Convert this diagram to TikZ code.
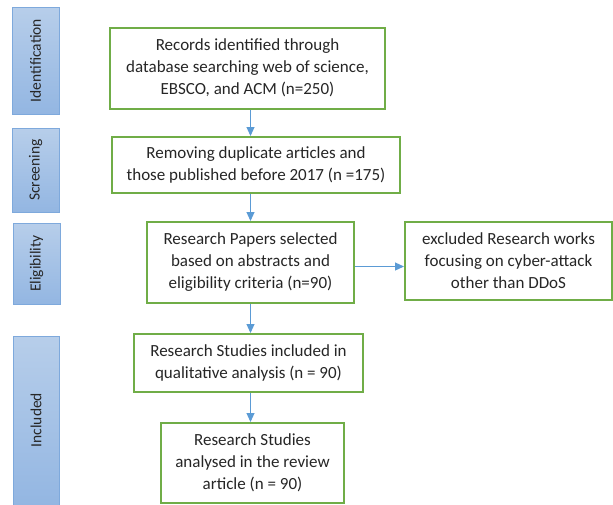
\documentclass[tikz,border=0pt]{standalone}
\usepackage{fontspec}
\setmainfont{Carlito}
\usetikzlibrary{arrows.meta,shadings}
\definecolor{boxgreen}{HTML}{70AD47}
\definecolor{arrblue}{HTML}{5B9BD5}
\definecolor{sidetop}{HTML}{B7CEEA}
\definecolor{sidebot}{HTML}{93B6E2}
\definecolor{sideedge}{HTML}{7EA9DC}
\definecolor{txt}{HTML}{262626}
\begin{document}
\begin{tikzpicture}[x=1pt,y=-1pt,
  stagebox/.style={draw=boxgreen,line width=2pt,fill=white,align=center,inner sep=2pt,
    text=txt,font=\fontsize{17}{22}\selectfont},
  sidebar/.style={draw=sideedge,line width=0.9pt,top color=sidetop,bottom color=sidebot},
  sidetext/.style={rotate=90,text=txt,font=\fontsize{15.5}{18}\selectfont},
  arr/.style={draw=arrblue,line width=1.1pt,-{Triangle[length=9pt,width=8pt]}}]
\useasboundingbox (0,0) rectangle (613,504);
% side bars
\node[sidebar,minimum width=47pt,minimum height=107pt] (s1) at (35.5,60.5) {};
\node[sidetext] (s1t) at (s1.center) {Identification};
\node[sidebar,minimum width=47pt,minimum height=84pt] (s2) at (35.5,170) {};
\node[sidetext] (s2t) at (s2.center) {Screening};
\node[sidebar,minimum width=47pt,minimum height=81pt] (s3) at (36.5,263.5) {};
\node[sidetext] (s3t) at (s3.center) {Eligibility};
\node[sidebar,minimum width=46pt,minimum height=170pt] (s4) at (36,421) {};
\node[sidetext] (s4t) at (36,420) {Included};
% boxes
\node[stagebox,minimum width=275pt,minimum height=81pt] (b1) at (247.5,68)
  {Records identified through\\database searching web of science,\\EBSCO, and ACM (n=250)};
\node[stagebox,minimum width=288pt,minimum height=56pt] (b2) at (256,165)
  {Removing duplicate articles and\\those published before 2017 (n =175)};
\node[stagebox,minimum width=207pt,minimum height=81pt] (b3) at (250.5,262.5)
  {Research Papers selected\\based on abstracts and\\eligibility criteria (n=90)};
\node[stagebox,minimum width=207pt,minimum height=78pt] (b4) at (508.5,261)
  {excluded Research works\\focusing on cyber-attack\\other than DDoS};
\node[stagebox,minimum width=229pt,minimum height=58pt] (b5) at (248.5,363)
  {Research Studies included in\\qualitative analysis (n = 90)};
\node[stagebox,minimum width=183pt,minimum height=80pt] (b6) at (252.5,463)
  {Research Studies\\analysed in the review\\article (n = 90)};
% arrows
\coordinate (cx) at (250.5,0);
\coordinate (cy) at (0,266.5);
\draw[arr] (b1.south -| cx) -- (b2.north -| cx);
\draw[arr] (b2.south -| cx) -- (b3.north -| cx);
\draw[arr] (b3.south -| cx) -- (b5.north -| cx);
\draw[arr] (b5.south -| cx) -- (b6.north -| cx);
\draw[arr] (b3.east |- cy) -- (b4.west |- cy);
\end{tikzpicture}
\end{document}
